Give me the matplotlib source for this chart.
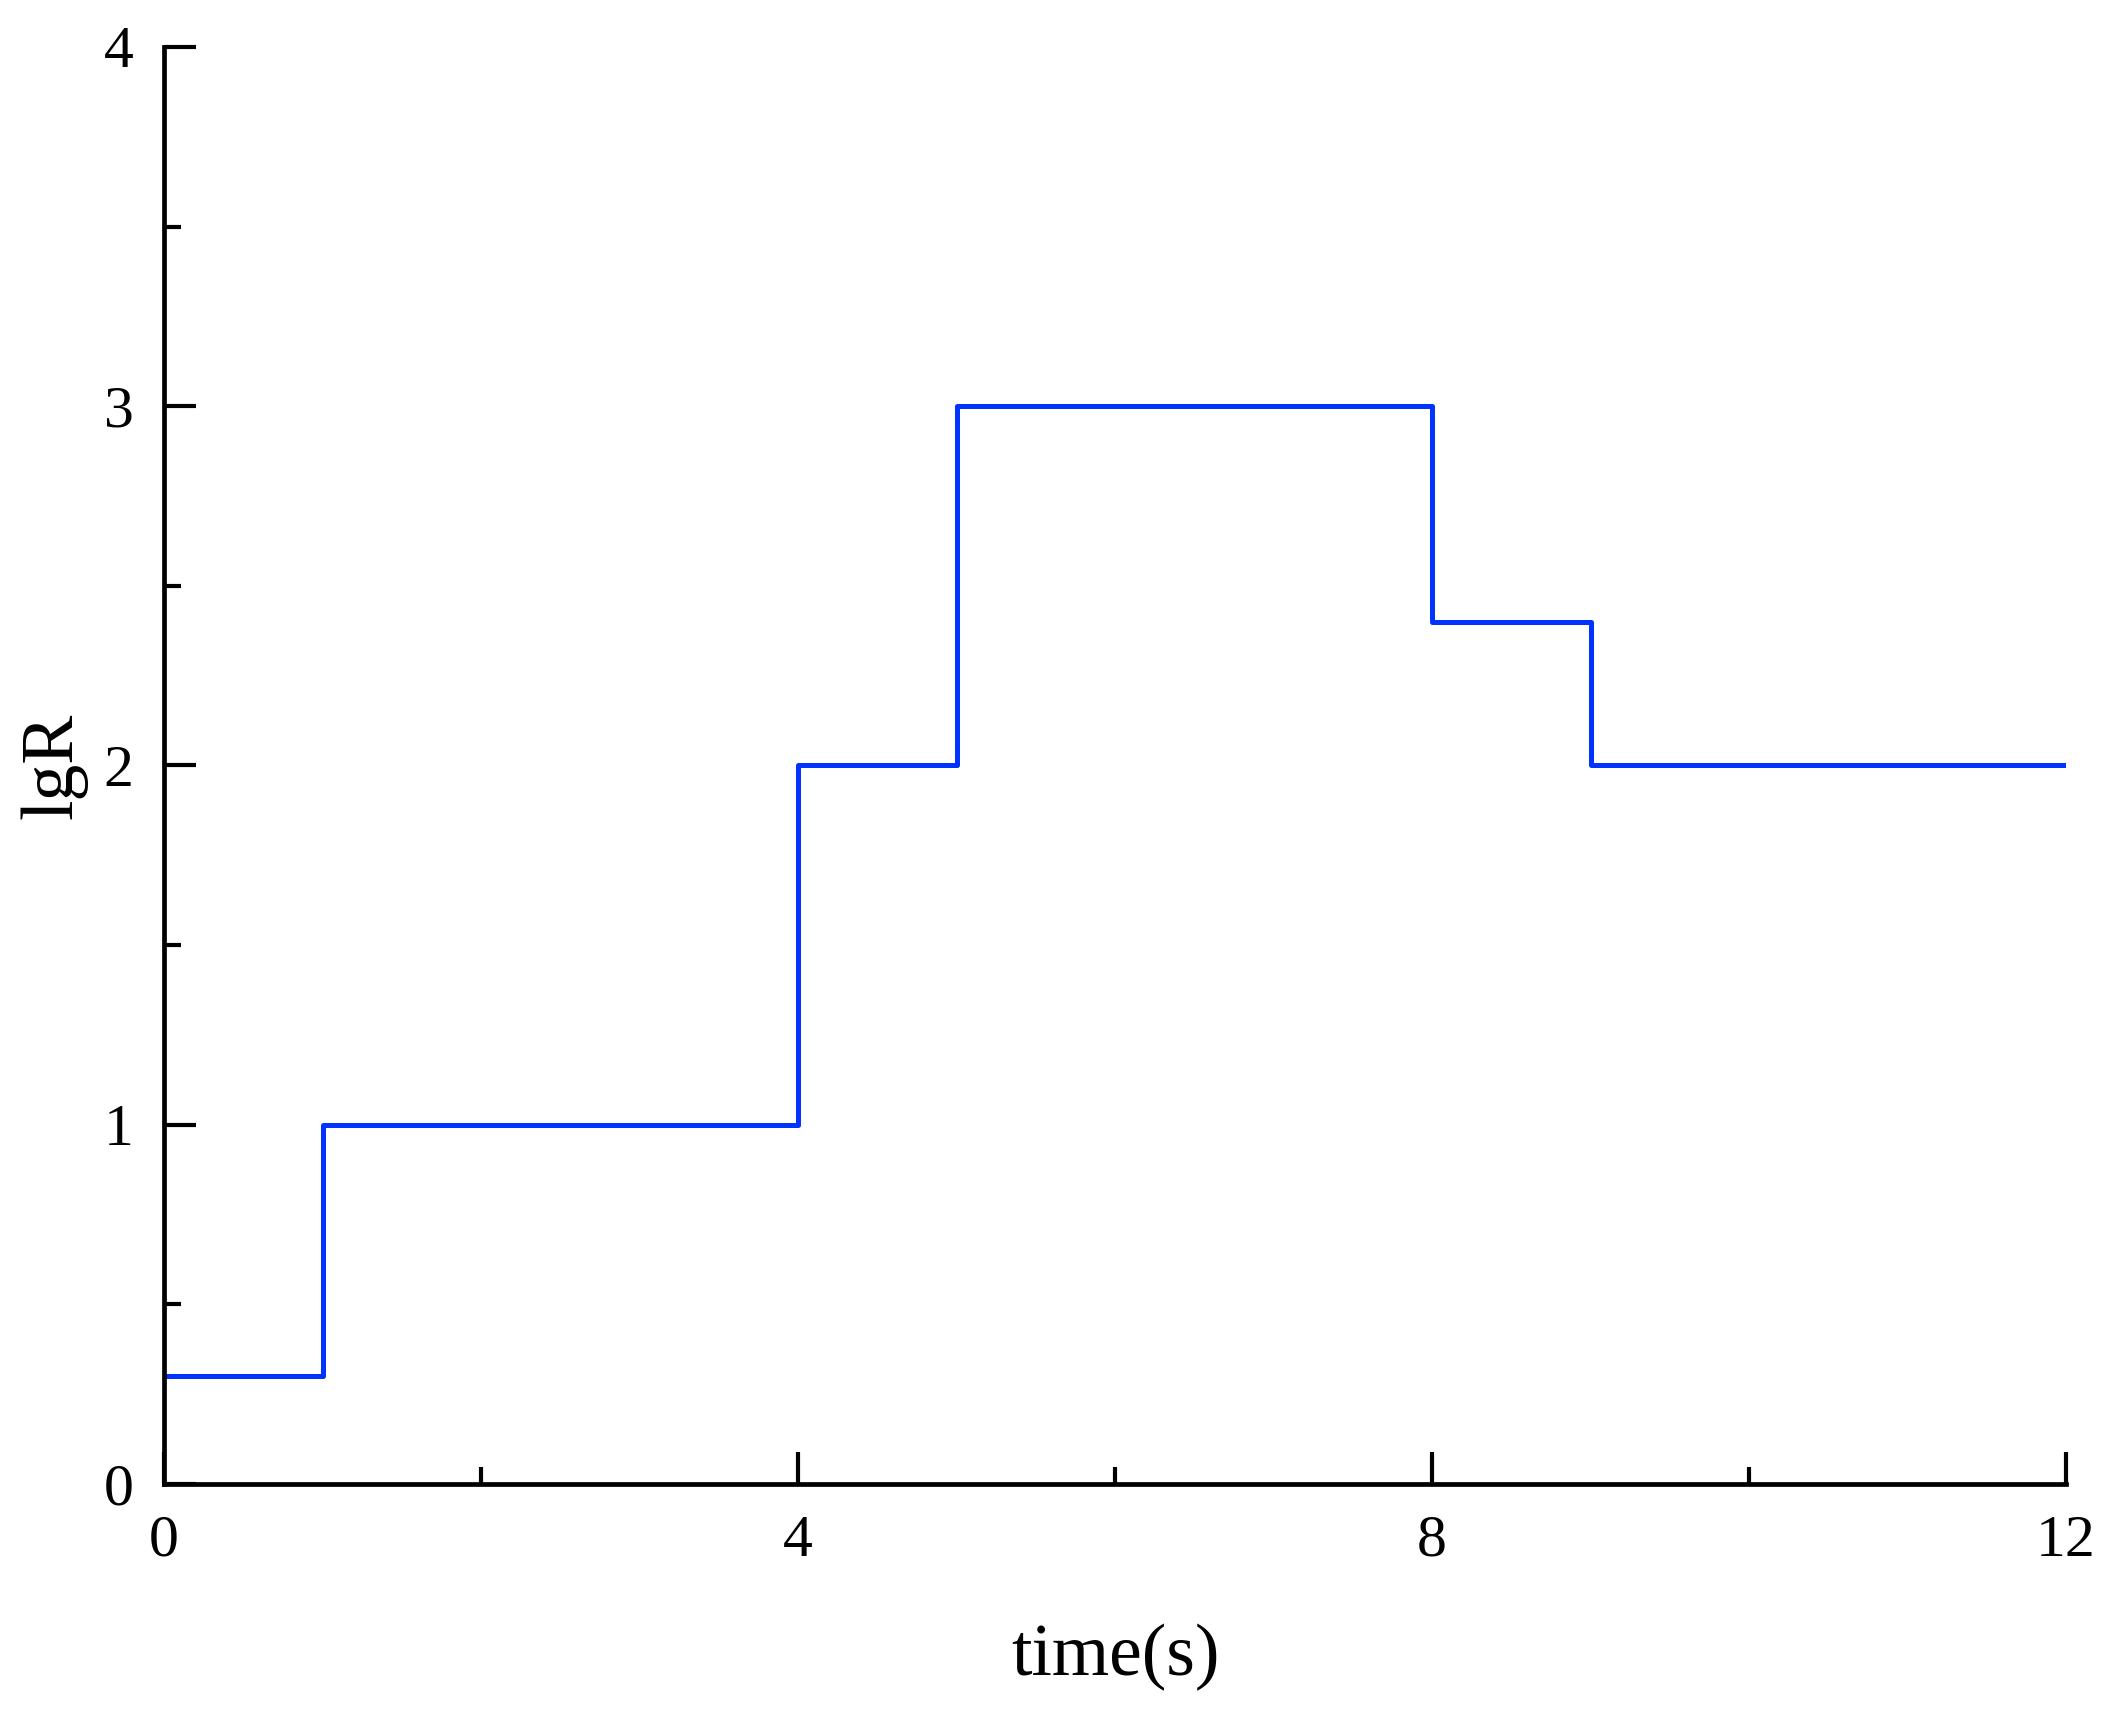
import matplotlib
matplotlib.use("Agg")
import matplotlib.pyplot as plt
from matplotlib.ticker import MultipleLocator

# data
time_s = [0, 1, 4, 5, 8, 9, 12]
lgR = [0.3, 1, 2, 3, 2.4, 2, 2]
x_ticks = [0, 4, 8, 12]
y_ticks = [0, 1, 2, 3, 4]

plt.rcParams['font.family'] = ['Liberation Serif', 'DejaVu Serif']

fig = plt.figure(figsize=(21.13, 17.12), dpi=100)
ax = fig.add_axes([164/2113, 1 - 1484/1712, (2066-164)/2113, (1484-47)/1712])

ax.step(time_s, lgR, where='post', color='#0033FF', lw=3.6)

ax.set_xlim(0, 12)
ax.set_ylim(0, 4)
ax.set_xticks(x_ticks)
ax.set_yticks(y_ticks)
ax.xaxis.set_minor_locator(MultipleLocator(2))
ax.yaxis.set_minor_locator(MultipleLocator(0.5))

for s in ['top', 'right']:
    ax.spines[s].set_visible(False)
for s in ['left', 'bottom']:
    ax.spines[s].set_linewidth(3.4)

ax.tick_params(which='major', direction='in', length=23, width=3.0, pad=22, labelsize=43)
ax.tick_params(which='minor', direction='in', length=12, width=3.0)

ax.set_xlabel('time(s)', fontsize=53)
ax.set_ylabel('lgR', fontsize=53)
ax.xaxis.label.set_va('center')
ax.yaxis.label.set_va('center')
ax.xaxis.set_label_coords(0.5, -0.121)
ax.yaxis.set_label_coords(-0.058, 0.5)

fig.savefig('out.png', dpi=100)
